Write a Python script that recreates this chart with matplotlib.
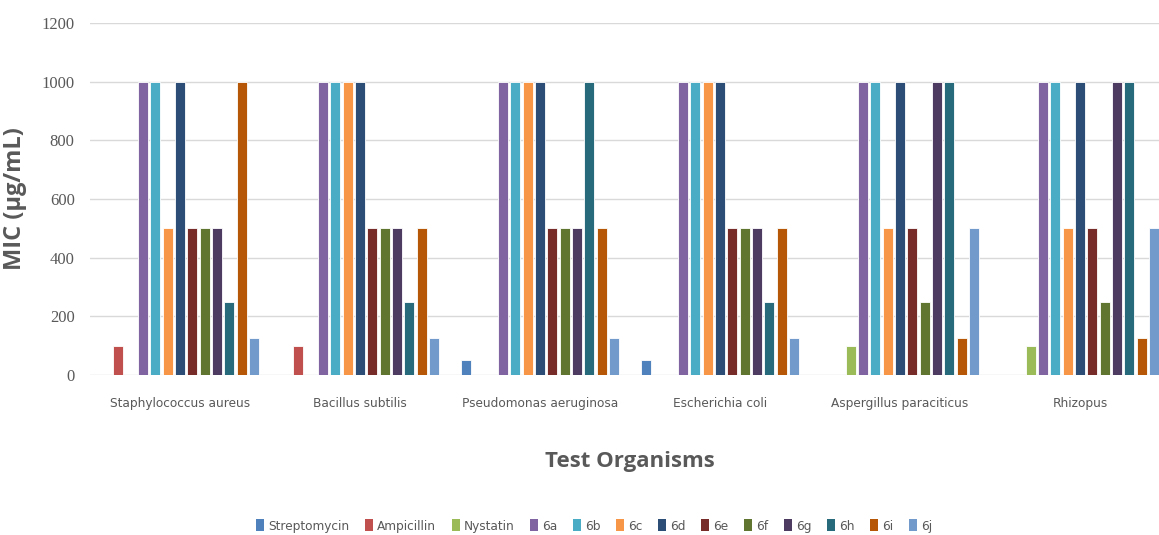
import numpy as np
import matplotlib
matplotlib.use("Agg")
import matplotlib.pyplot as plt
from matplotlib.patches import Patch

organisms = ["Staphylococcus aureus", "Bacillus subtilis", "Pseudomonas aeruginosa",
             "Escherichia coli", "Aspergillus paraciticus", "Rhizopus"]
series = ["Streptomycin", "Ampicillin", "Nystatin", "6a", "6b", "6c", "6d",
          "6e", "6f", "6g", "6h", "6i", "6j"]
colors = ["#4F81BD", "#C0504D", "#9BBB59", "#8064A2", "#4BACC6", "#F79646", "#2C4D75",
          "#772C2A", "#5F7530", "#4D3B62", "#276A7C", "#B65708", "#729ACA"]

# MIC values per compound, one entry per organism
streptomycin = [0, 0, 50, 50, 0, 0]
ampicillin = [100, 100, 0, 0, 0, 0]
nystatin = [0, 0, 0, 0, 100, 100]
c6a = [1000, 1000, 1000, 1000, 1000, 1000]
c6b = [1000, 1000, 1000, 1000, 1000, 1000]
c6c = [500, 1000, 1000, 1000, 500, 500]
c6d = [1000, 1000, 1000, 1000, 1000, 1000]
c6e = [500, 500, 500, 500, 500, 500]
c6f = [500, 500, 500, 500, 250, 250]
c6g = [500, 500, 500, 500, 1000, 1000]
c6h = [250, 250, 1000, 250, 1000, 1000]
c6i = [1000, 500, 500, 500, 125, 125]
c6j = [125, 125, 125, 125, 500, 500]
values = [streptomycin, ampicillin, nystatin, c6a, c6b, c6c, c6d,
          c6e, c6f, c6g, c6h, c6i, c6j]

W, H = 1159, 535
fig = plt.figure(figsize=(W / 100, H / 100), dpi=100)
ax = fig.add_axes([90 / W, 1 - 375 / H, 1080 / W, 352 / H])

grey = "#595959"
cond = dict(fontfamily="DejaVu Sans", fontstretch="condensed")

x = np.arange(len(organisms))
slot = 0.0685
width = 0.056
for j, (name, vals) in enumerate(zip(series, values)):
    ax.bar(x + (j - 6) * slot, vals, width, color=colors[j],
           edgecolor="white", linewidth=0.6, zorder=3)

ax.set_xlim(-0.5, 5.5)
ax.set_ylim(0, 1200)
ax.set_yticks(range(0, 1201, 200))
ax.set_xticks(x)
ax.set_xticklabels(organisms, fontsize=9.7, color=grey, **cond)
for lab in ax.get_yticklabels():
    lab.set_fontfamily(["Liberation Serif", "DejaVu Serif"])
    lab.set_fontsize(12)
    lab.set_color(grey)
ax.tick_params(axis="both", length=0)
ax.tick_params(axis="y", pad=11)
ax.tick_params(axis="x", pad=16)
ax.grid(axis="y", color="#D9D9D9", linewidth=1, zorder=0)
for s in ax.spines.values():
    s.set_visible(False)

ax.set_ylabel("MIC (µg/mL)", fontfamily=["Open Sans", "DejaVu Sans"], fontweight="bold",
              fontsize=17, color=grey)
ax.yaxis.set_label_coords(-63 / 1080, 0.5)
fig.text(630 / W, 1 - 461 / H, "Test Organisms", fontfamily=["Open Sans", "DejaVu Sans"],
         fontweight="bold", fontsize=16, color=grey, ha="center", va="center")

handles = [Patch(facecolor=c, edgecolor="none") for c in colors]
fig.legend(handles, series, loc="center", bbox_to_anchor=(594 / W, 1 - 526 / H),
           ncol=len(series), frameon=False, handlelength=0.6, handleheight=0.9,
           handletextpad=0.3, columnspacing=1.15,
           prop={"family": "DejaVu Sans", "stretch": "condensed", "size": 9.7},
           labelcolor=grey)

fig.savefig("out.png", dpi=100)
